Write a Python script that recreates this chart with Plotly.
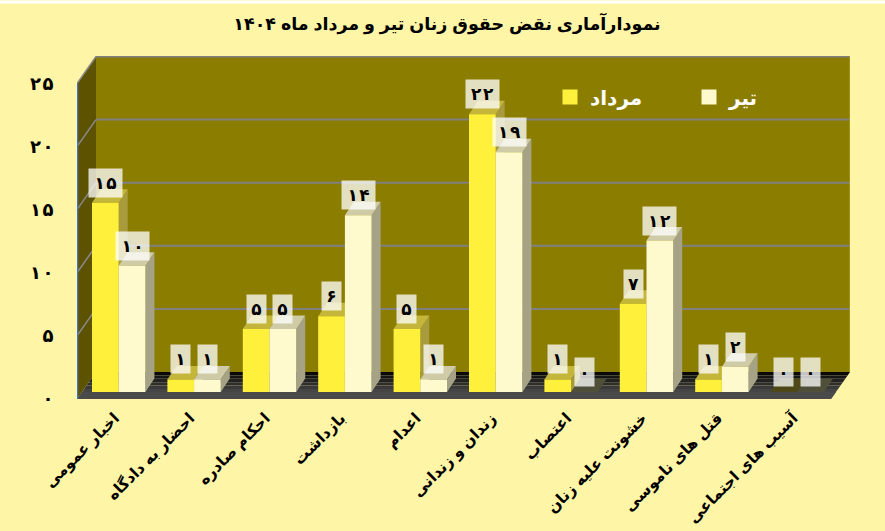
import plotly.graph_objects as go

categories = ["اخبار عمومی", "احضار به دادگاه", "احکام صادره", "بازداشت", "اعدام",
              "زندان و زندانی", "اعتصاب", "خشونت علیه زنان", "قتل های ناموسی", "آسیب های اجتماعی"]
mordad = [15, 1, 5, 6, 5, 22, 1, 7, 1, 0]
tir = [10, 1, 5, 14, 1, 19, 0, 12, 2, 0]
y_ticks = [0, 5, 10, 15, 20, 25]
TITLE = "نمودارآماری نقض حقوق زنان تیر و مرداد ماه ۱۴۰۴"
FONT = "Liberation Sans, Noto Sans, DejaVu Sans, sans-serif"
BG = "#FFF5A6"

def fa(n):
    return str(n).translate(str.maketrans("0123456789", "۰۱۲۳۴۵۶۷۸۹"))
def spaced(s):
    return "\u200a".join(s)

W, H = 885, 531
L, R, T, B = 77, 850, 55.5, 399
PX_X, PX_Y = 75.4, 12.64
def ux(p): return p / PX_X
def uy(p): return p / PX_Y
XMAX = (R - L) / PX_X
YMAX = (B - T) / PX_Y
WX, WY = ux(19), uy(27)      # wall depth
DX, DY = ux(9), uy(13.5)     # bar depth
BASE = uy(7)                 # bars' base above the front edge
BW = ux(26.7)
SHIFT = ux(4)

shapes = []
def poly(pts, fill, line=None, w=0):
    d = "M" + " L".join(f"{x},{y}" for x, y in pts) + " Z"
    shapes.append(dict(type="path", path=d, xref="x", yref="y", layer="below",
                       fillcolor=fill, line=dict(color=line or fill, width=w)))
def seg(x0, y0, x1, y1, c, w=2):
    shapes.append(dict(type="line", x0=x0, y0=y0, x1=x1, y1=y1, xref="x", yref="y",
                       layer="below", line=dict(color=c, width=w)))

shapes.append(dict(type="rect", xref="paper", yref="paper", x0=-L / (R - L), x1=(W - L) / (R - L),
                   y0=1 + (T - 3) / (B - T), y1=1 + T / (B - T), fillcolor="#FFFFFF",
                   line=dict(width=0), layer="below"))
poly([(WX, WY), (XMAX, WY), (XMAX, YMAX), (WX, YMAX)], "#8B7D00")
poly([(0, 0), (WX, WY), (WX, YMAX), (0, 25)], "#5C5200")
# floor, darkening towards the back wall
steps = ["#5a5a5a", "#505050", "#454545", "#3a3a3a", "#2e2e2e", "#222222", "#161616", "#0a0a0a"]
n = len(steps)
for i, c in enumerate(steps):
    a, b = i / n, (i + 1) / n
    poly([(WX * a, WY * a), (XMAX - WX + WX * a, WY * a),
          (XMAX - WX + WX * b, WY * b), (WX * b, WY * b)], c)
poly([(0, 0), (XMAX - WX, 0), (XMAX - WX + ux(5), BASE), (ux(5), BASE)], "#4a4a4a")
for v in y_ticks[1:]:
    seg(0, v, WX, v + WY, "#8a8a8a", 1.5)
    seg(WX, v + WY, XMAX, v + WY, "#808080", 2)
seg(XMAX, WY, XMAX, YMAX, "#A89A20", 1.5)
seg(0, 0, 0, 25, "#4472C4", 2.5)

cx = [i + 0.5 + SHIFT for i in range(len(categories))]
x_m = [c - BW / 2 for c in cx]
x_t = [c + BW / 2 for c in cx]

def faces(xs, vals):
    side_x, side_y, top_x, top_y, zero_x, zero_y = [], [], [], [], [], []
    for x, v in zip(xs, vals):
        x0, x1 = x - BW / 2, x + BW / 2
        y0, y1 = BASE, BASE + v
        tx = [x0, x1, x1 + DX, x0 + DX, x0, None]
        ty = [y1, y1, y1 + DY, y1 + DY, y1, None]
        if v == 0:
            zero_x += tx; zero_y += ty
        else:
            top_x += tx; top_y += ty
            side_x += [x1, x1 + DX, x1 + DX, x1, x1, None]
            side_y += [y0, y0 + DY, y1 + DY, y1, y0, None]
    return side_x, side_y, top_x, top_y, zero_x, zero_y

def poly_trace(x, y, color, z):
    return go.Scatter(x=x, y=y, mode="lines", fill="toself", fillcolor=color,
                      line=dict(width=0), hoverinfo="skip", showlegend=False, zorder=z)

fig = go.Figure()
s = faces(x_m, mordad)
fig.add_trace(poly_trace(s[0], s[1], "#A89B3C", 1))
fig.add_trace(poly_trace(s[2], s[3], "#C4B63A", 1))
fig.add_trace(poly_trace(s[4], s[5], "#4E4818", 1))
fig.add_trace(go.Bar(x=x_m, y=mordad, base=BASE, width=BW, name="مرداد", showlegend=False,
                     marker=dict(color="#FFF03C", line=dict(width=0)), zorder=2))
s = faces(x_t, tir)
fig.add_trace(poly_trace(s[0], s[1], "#A6A285", 3))
fig.add_trace(poly_trace(s[2], s[3], "#CFCBA6", 3))
fig.add_trace(poly_trace(s[4], s[5], "#50503A", 3))
fig.add_trace(go.Bar(x=x_t, y=tir, base=BASE, width=BW, name="تیر", showlegend=False,
                     marker=dict(color="#FFFACD", line=dict(width=0)), zorder=4))
for name, col in (("مرداد", "#FFF03C"), ("تیر", "#FFFACD")):
    fig.add_trace(go.Scatter(x=[None], y=[None], mode="markers", name=f"<b>{name}</b>",
                             marker=dict(symbol="square", size=15, color=col)))

ann = []
for xs, vals in ((x_m, mordad), (x_t, tir)):
    for x, v in zip(xs, vals):
        ann.append(dict(x=x, y=v + BASE, xref="x", yref="y", yshift=20,
                        text=f"<b>{spaced(fa(v))}</b>",
                        showarrow=False, width=33 if v >= 10 else 19, height=28,
                        bgcolor="rgba(255,255,255,0.76)", borderpad=0,
                        font=dict(family=FONT, size=17, color="#000000")))

fig.update_layout(
    width=W, height=H, autosize=False,
    paper_bgcolor=BG, plot_bgcolor="rgba(0,0,0,0)",
    margin=dict(l=L, r=W - R, t=T, b=H - B),
    barmode="overlay", shapes=shapes, annotations=ann,
    font=dict(family=FONT, color="#000000"),
    title=dict(text=f"<b>{TITLE}</b>", x=447 / W, xanchor="center", y=1 - 24 / H, yanchor="middle",
               font=dict(family=FONT, size=17.5, color="#000000")),
    legend=dict(orientation="h", x=(550 - L) / (R - L), y=1 - (77 - T) / (B - T),
                xanchor="left", yanchor="top", bgcolor="rgba(0,0,0,0)", entrywidth=94, entrywidthmode="pixels",
                font=dict(family=FONT, size=20, color="#FFFFFF"), traceorder="normal"),
    xaxis=dict(range=[0, XMAX], tickmode="array", tickvals=[i + 0.5 for i in range(len(categories))],
               ticktext=[f"<b>{c}</b>" for c in categories], tickangle=-45, showgrid=False, zeroline=False,
               ticks="outside", ticklen=3, tickcolor="rgba(0,0,0,0)", showline=False, automargin=False,
               tickfont=dict(family=FONT, size=15.5, color="#000000")),
    yaxis=dict(range=[0, YMAX], tickmode="array", tickvals=y_ticks,
               ticktext=[f"<b>{spaced(fa(v))}</b>" for v in y_ticks], automargin=False,
               showgrid=False, zeroline=False, ticks="outside", ticklen=19, tickcolor="rgba(0,0,0,0)", showline=False,
               tickfont=dict(family=FONT, size=18, color="#000000")),
)
fig.write_html("out.html", config=dict(displayModeBar=False),
               post_script="document.body.style.margin='0';")
